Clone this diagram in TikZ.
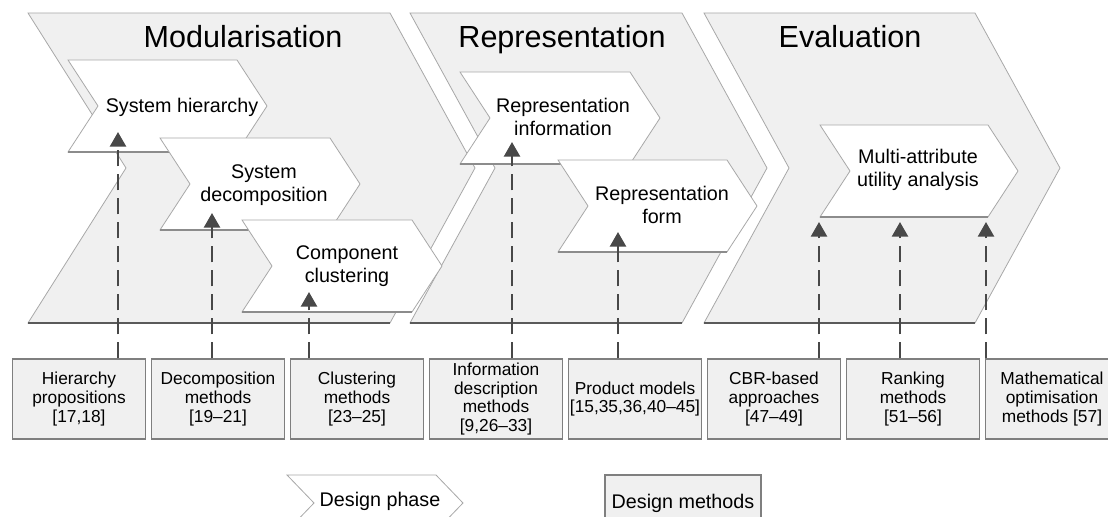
\documentclass[tikz,border=0pt]{standalone}
\usepackage{fontspec}
\setmainfont{Liberation Sans}
\usetikzlibrary{arrows.meta}

\definecolor{phasefill}{HTML}{F0F0F0}
\definecolor{phaseline}{HTML}{A8A8A8}
\definecolor{shadowline}{HTML}{5A5A5A}
\definecolor{stepbottom}{HTML}{8C8C8C}
\definecolor{boxline}{HTML}{7F7F7F}
\definecolor{arrowgray}{HTML}{484848}

% chevron: #1 body style, #2 bottom-edge style, #3 left x, #4 right x (top corner),
% #5 top y, #6 height, #7 notch depth, #8 point depth
\newcommand{\chevshape}[8]{%
  \path[#1] (#3,#5) -- (#4,#5) -- (#4+#8,#5+#6/2) -- (#4,#5+#6) -- (#3,#5+#6)
            -- (#3+#7,#5+#6/2) -- cycle;
  \draw[#2] (#3,#5+#6) -- (#4,#5+#6);}

\tikzset{
  bigphase/.style={fill=phasefill, draw=phaseline, line width=0.6pt},
  bigbase/.style={draw=shadowline, line width=1.1pt},
  subphase/.style={fill=white, draw=phaseline, line width=0.6pt},
  subbase/.style={draw=stepbottom, line width=0.8pt},
  legendbase/.style={draw=phaseline, line width=0.6pt},
  phasetitle/.style={font=\fontsize{22.9}{27}\selectfont, anchor=base, inner sep=0pt},
  phasetext/.style={font=\fontsize{14.8}{17.5}\selectfont, align=center, inner sep=0pt},
  methodbox/.style={draw=boxline, fill=phasefill, line width=1pt,
    minimum width=99.75pt, minimum height=60pt, inner sep=0pt,
    font=\fontsize{13}{14}\selectfont, align=center},
  legendbox/.style={methodbox, minimum width=117pt, minimum height=42pt,
    font=\fontsize{14.8}{17.5}\selectfont},
  dasharrow/.style={draw=arrowgray, line width=1.9pt, dash pattern=on 12pt off 6pt,
    -{Triangle[width=12pt,length=11pt,fill=arrowgray]}},
}

\begin{document}
\begin{tikzpicture}[x=0.75pt,y=-0.75pt]
\path[use as bounding box] (0,0) rectangle (1108,517);
\clip (0,0) rectangle (1108,517);

% design phases
\chevshape{bigphase}{bigbase}{28}{390}{13}{310}{98}{85}
\chevshape{bigphase}{bigbase}{410}{682}{13}{310}{85}{85}
\chevshape{bigphase}{bigbase}{704}{975}{13}{310}{85}{85}

\node[phasetitle] (tmod) at (243,48) {Modularisation};
\node[phasetitle] (trep) at (562,48) {Representation};
\node[phasetitle] (teva) at (850,48) {Evaluation};

% steps inside the phases
\chevshape{subphase}{subbase}{68}{237}{60}{92}{30}{30}
\chevshape{subphase}{subbase}{160}{330}{138}{92}{30}{30}
\chevshape{subphase}{subbase}{242}{412}{220}{92}{30}{30}
\chevshape{subphase}{subbase}{460}{630}{72}{92}{30}{30}
\chevshape{subphase}{subbase}{558}{727}{160}{92}{30}{30}
\chevshape{subphase}{subbase}{820}{988}{125}{92}{30}{30}

\node[phasetext] (shier) at (182,107) {System hierarchy};
\node[phasetext] (sdec) at (264,185) {System\\decomposition};
\node[phasetext] (sclu) at (347,266) {Component\\clustering};
\node[phasetext] (sinf) at (563,117) {Representation\\information};
\node[phasetext] (sform) at (662,205) {Representation\\form};
\node[phasetext] (smau) at (918,170) {Multi-attribute\\utility analysis};

% design methods
\node[methodbox] (m1) at (79,399) {Hierarchy\\propositions\\{[17,18]}};
\node[methodbox] (m2) at (218,399) {Decomposition\\methods\\{[19–21]}};
\node[methodbox] (m3) at (357,399) {Clustering\\methods\\{[23–25]}};
\node[methodbox] (m4) at (496,399) {Information\\description\\methods\\{[9,26–33]}};
\node[methodbox] (m5) at (635,399) {Product models\\{[15,35,36,40–45]}};
\node[methodbox] (m6) at (774,399) {CBR-based\\approaches\\{[47–49]}};
\node[methodbox] (m7) at (913,399) {Ranking\\methods\\{[51–56]}};
\node[methodbox] (m8) at (1052,399) {Mathematical\\optimisation\\methods [57]};

% arrow tips
\coordinate (a1) at (118,132);
\coordinate (a2) at (212,213);
\coordinate (a3) at (309,292);
\coordinate (a4) at (512,142);
\coordinate (a5) at (618,232);
\coordinate (a6) at (819,222);
\coordinate (a7) at (900,222);
\coordinate (a8) at (986,222);

\draw[dasharrow] (a1 |- m1.north) -- (a1);
\draw[dasharrow] (a2 |- m2.north) -- (a2);
\draw[dasharrow] (a3 |- m3.north) -- (a3);
\draw[dasharrow] (a4 |- m4.north) -- (a4);
\draw[dasharrow] (a5 |- m5.north) -- (a5);
\draw[dasharrow] (a6 |- m6.north) -- (a6);
\draw[dasharrow] (a7 |- m7.north) -- (a7);
\draw[dasharrow] (a8 |- m8.north) -- (a8);

% legend
\chevshape{subphase}{legendbase}{287}{436}{475}{56}{27}{27}
\node[phasetext] (lphase) at (380,501) {Design phase};
\node[legendbox] (lmeth) at (683,503) {Design methods};
\end{tikzpicture}
\end{document}
